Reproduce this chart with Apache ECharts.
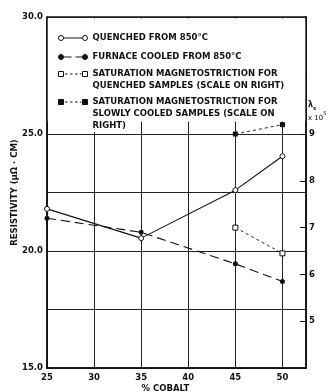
<!DOCTYPE html>
<html>
<head>
<meta charset="utf-8">
<script src="https://cdn.jsdelivr.net/npm/echarts@6/dist/echarts.min.js"></script>
<style>html,body{margin:0;padding:0;background:#fff}#c{width:328px;height:392px}</style>
</head>
<body>
<div id="c"></div>
<script>
// ---- data ----
var cobalt = [25, 35, 45, 50];
var quenched = [21.8, 20.55, 22.6, 24.05];
var furnace = [21.4, 20.8, 19.45, 18.7];
var satCobalt = [45, 50];
var satQuenched = [7.0, 6.45];
var satSlow = [9.0, 9.2];
var xTicks = [25, 30, 35, 40, 45, 50];
var leftTicks = [15, 20, 25, 30];
var rightTicks = [5, 6, 7, 8, 9];
var names = [
  'QUENCHED FROM 850°C',
  'FURNACE COOLED FROM 850°C',
  'SATURATION MAGNETOSTRICTION FOR\nQUENCHED SAMPLES (SCALE ON RIGHT)',
  'SATURATION MAGNETOSTRICTION FOR\nSLOWLY COOLED SAMPLES (SCALE ON\nRIGHT)'
];

function pairs(xs, ys) { return xs.map(function (x, i) { return [x, ys[i]]; }); }

var FONT = 'DejaVu Sans';
var INK = '#111';

// legend icon shapes (29 x 5 px): marker - line - marker
function circ(cx) { return 'M' + (cx - 2.5) + ' 2.5 A2.5 2.5 0 1 0 ' + (cx + 2.5) + ' 2.5 A2.5 2.5 0 1 0 ' + (cx - 2.5) + ' 2.5 Z '; }
function sq(x0) { return 'M' + x0 + ' 0 L' + (x0 + 5) + ' 0 L' + (x0 + 5) + ' 5 L' + x0 + ' 5 Z '; }
var icons = [
  'path://' + circ(2.5) + 'M5 2.5 L24 2.5 ' + circ(26.5),
  'path://' + circ(2.5) + 'M5 2.5 L13 2.5 M17 2.5 L24 2.5 ' + circ(26.5),
  'path://' + sq(0) + 'M6.5 2.5 L9 2.5 M11.5 2.5 L14 2.5 M16.5 2.5 L19 2.5 M21.5 2.5 L23 2.5 ' + sq(24),
  'path://' + sq(0) + 'M6.5 2.5 L9 2.5 M11.5 2.5 L14 2.5 M16.5 2.5 L19 2.5 M21.5 2.5 L23 2.5 ' + sq(24)
];
var iconFill = ['#fff', INK, '#fff', INK];

var chart = echarts.init(document.getElementById('c'), null, { renderer: 'canvas' });

function legendFor(i, top) {
  return {
    data: [names[i]],
    orient: 'vertical', left: 58, top: top, padding: 0, itemGap: 0,
    itemWidth: 29, itemHeight: 5, selectedMode: false,
    icon: icons[i],
    itemStyle: { color: iconFill[i], borderColor: INK, borderWidth: 1 },
    // keep the marker level with the first text line
    formatter: function (n) {
      var k = n.split('\n').length - 1;
      return new Array(k + 1).join('\n') + n;
    },
    textStyle: { fontFamily: FONT, fontSize: 8.5, fontWeight: 'bold', color: INK, lineHeight: 12 }
  };
}

chart.setOption({
  backgroundColor: '#fff',
  animation: false,
  grid: { left: 47, right: 22, top: 17, bottom: 24, show: true, borderColor: INK, borderWidth: 1.5, outerBoundsMode: 'none', containLabel: false },
  legend: [
    legendFor(0, 32),
    legendFor(1, 51),
    legendFor(2, 56),
    legendFor(3, 72)
  ],
  graphic: [{
    type: 'rect', z: 1, silent: true,
    shape: { x: 47.75, y: 18.5, width: 257.5, height: 103 },
    style: { fill: '#fff' }
  }, {
    type: 'rect', z: 1, silent: true,
    shape: { x: 90, y: 121, width: 34, height: 11 },
    style: { fill: '#fff' }
  }],
  xAxis: {
    type: 'value', min: 25, max: 52.5, interval: 5,
    name: '% COBALT', nameLocation: 'middle', nameGap: 16, nameMoveOverlap: false,
    nameTextStyle: { fontFamily: FONT, fontSize: 8.5, fontWeight: 'bold', color: INK, padding: [0, 22, 0, 0] },
    axisLine: { show: true, lineStyle: { color: INK, width: 1.5 } },
    axisTick: { show: false },
    axisLabel: {
      customValues: xTicks, margin: 5,
      fontFamily: FONT, fontSize: 8.5, fontWeight: 'bold', color: INK
    },
    splitLine: { show: true, lineStyle: { color: '#222', width: 1 } }
  },
  yAxis: [{
    type: 'value', min: 15, max: 30, interval: 2.5, position: 'left',
    name: 'RESISTIVITY (μΩ · CM)', nameLocation: 'middle', nameGap: 28, nameMoveOverlap: false,
    nameTextStyle: { fontFamily: FONT, fontSize: 8.5, fontWeight: 'bold', color: INK },
    axisLine: { show: true, lineStyle: { color: INK, width: 1.5 } },
    axisTick: { show: false },
    axisLabel: {
      customValues: leftTicks, margin: 4,
      formatter: function (v) { return v.toFixed(1); },
      fontFamily: FONT, fontSize: 8.5, fontWeight: 'bold', color: INK
    },
    splitLine: { show: true, lineStyle: { color: '#222', width: 1 } }
  }, {
    type: 'value', min: 4, max: 11.5, interval: 1, position: 'right',
    name: '{l|λ}{s|s}\n{x|x 10}{p|5}', nameLocation: 'end', nameGap: -94.5, nameMoveOverlap: false,
    nameTextStyle: {
      align: 'left', verticalAlign: 'middle', padding: [0, 0, 0, 2],
      rich: {
        l: { fontFamily: FONT, fontSize: 8, fontWeight: 'bold', color: INK, lineHeight: 14 },
        x: { fontFamily: FONT, fontSize: 7, color: INK, lineHeight: 14 },
        s: { fontFamily: FONT, fontSize: 5.5, fontWeight: 'bold', color: INK, verticalAlign: 'bottom', lineHeight: 14 },
        p: { fontFamily: FONT, fontSize: 5, color: INK, verticalAlign: 'top', lineHeight: 14 }
      }
    },
    axisLine: { show: true, lineStyle: { color: INK, width: 1.5 } },
    axisTick: { show: true, inside: true, length: 6, customValues: rightTicks, lineStyle: { color: INK, width: 1 } },
    axisLabel: {
      customValues: rightTicks, margin: 3,
      fontFamily: FONT, fontSize: 8.5, fontWeight: 'bold', color: INK
    },
    splitLine: { show: false }
  }],
  series: [{
    name: names[0], type: 'line', data: pairs(cobalt, quenched),
    symbol: 'circle', symbolSize: 5,
    itemStyle: { color: '#fff', borderColor: INK, borderWidth: 1 },
    lineStyle: { color: INK, width: 1.1 }
  }, {
    name: names[1], type: 'line', data: pairs(cobalt, furnace),
    symbol: 'circle', symbolSize: 5,
    itemStyle: { color: INK },
    lineStyle: { color: INK, width: 1.1, type: [9, 5] }
  }, {
    name: names[2], type: 'line', yAxisIndex: 1, data: pairs(satCobalt, satQuenched),
    symbol: 'rect', symbolSize: 5,
    itemStyle: { color: '#fff', borderColor: INK, borderWidth: 1 },
    lineStyle: { color: INK, width: 0.9, type: [3, 3] }
  }, {
    name: names[3], type: 'line', yAxisIndex: 1, data: pairs(satCobalt, satSlow),
    symbol: 'rect', symbolSize: 5,
    itemStyle: { color: INK },
    lineStyle: { color: INK, width: 0.9, type: [3, 3] }
  }]
});
</script>
</body>
</html>
